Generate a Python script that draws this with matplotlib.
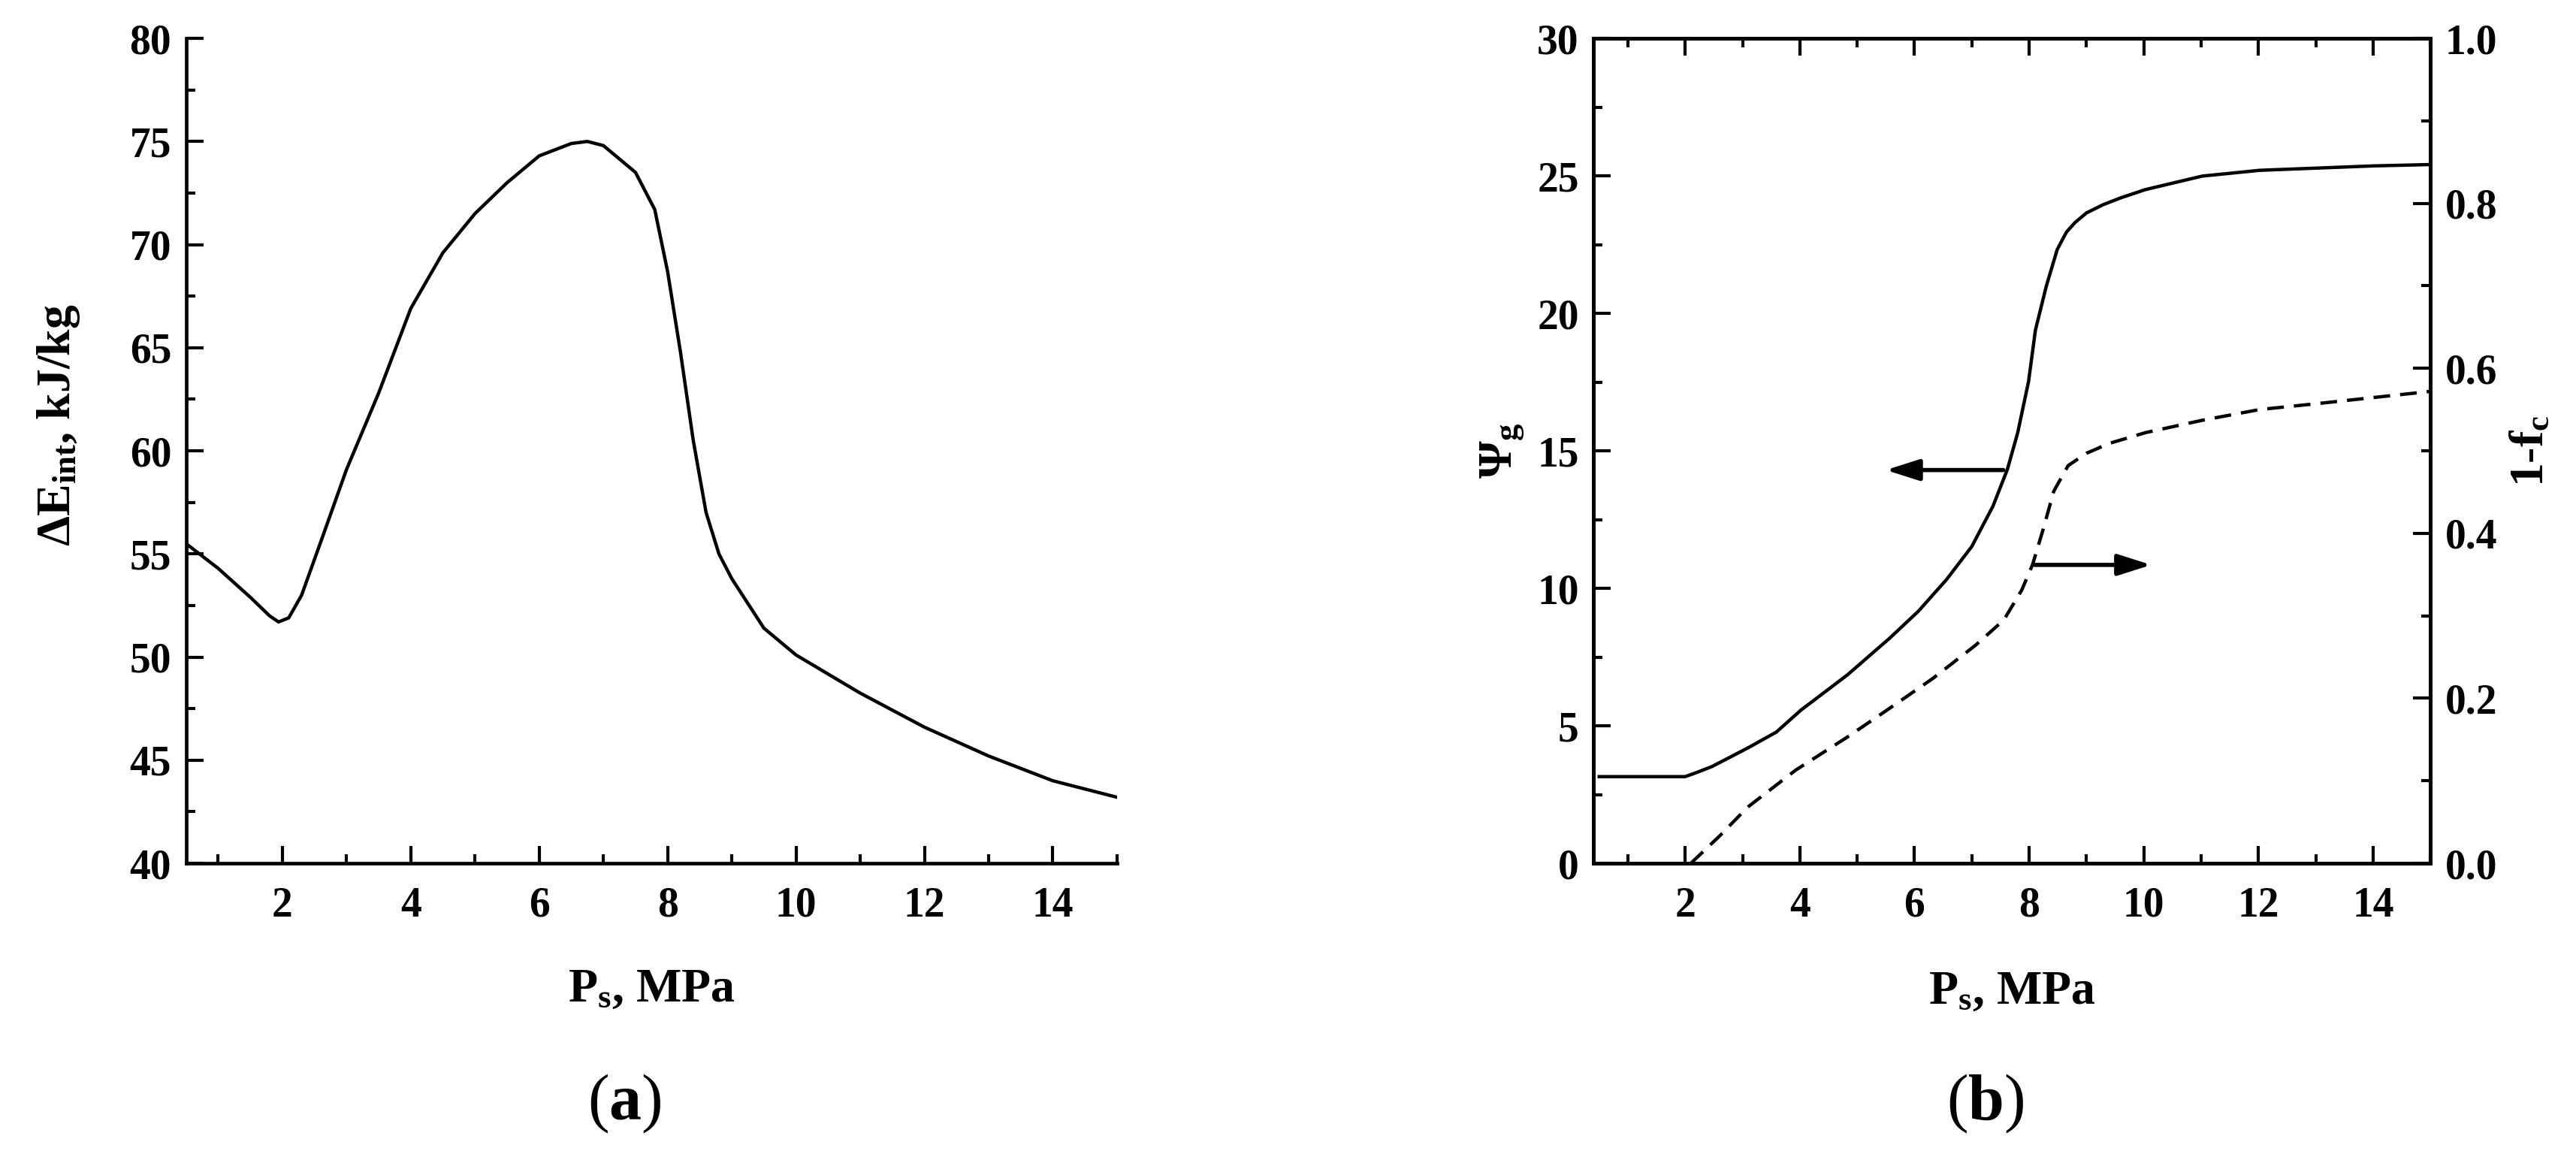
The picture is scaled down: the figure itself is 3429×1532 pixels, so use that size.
import numpy as np
import matplotlib
matplotlib.use('Agg')
import matplotlib.pyplot as plt
from matplotlib.ticker import MultipleLocator, FormatStrFormatter

plt.rcParams['font.family'] = ['Liberation Serif', 'DejaVu Serif']
plt.rcParams['font.weight'] = 'bold'
plt.rcParams['axes.labelweight'] = 'bold'
plt.rcParams['mathtext.fontset'] = 'custom'
plt.rcParams['mathtext.rm'] = 'Liberation Serif:bold'
plt.rcParams['mathtext.bf'] = 'Liberation Serif:bold'
plt.rcParams['mathtext.it'] = 'Liberation Serif:italic:bold'

#----------------------- data -----------------------#
# (a) internal energy change vs separator pressure
p_a = [0.5, 1.0, 1.5, 1.8, 1.94, 2.1, 2.3, 2.6, 3.0, 3.5, 4.0, 4.5, 5.0,
       5.5, 6.0, 6.5, 6.75, 7.0, 7.5, 7.8, 8.0, 8.2, 8.4, 8.6, 8.8, 9.0,
       9.5, 10.0, 11.0, 12.0, 13.0, 14.0, 15.0]
dE_int = [55.5, 54.3, 52.9, 52.0, 51.7, 51.9, 53.0, 55.6, 59.1, 62.8, 66.9,
          69.6, 71.5, 73.0, 74.3, 74.9, 75.0, 74.8, 73.5, 71.7, 68.7, 64.8,
          60.5, 57.0, 55.0, 53.8, 51.4, 50.1, 48.25, 46.6, 45.2, 44.0, 43.2]

# (b) Psi_g (left axis, solid)
p_b = [0.5, 2.0, 2.2, 2.47, 3.09, 3.59, 4.02, 4.83, 5.57, 6.07, 6.56, 7.0,
       7.37, 7.62, 7.8, 7.99, 8.11, 8.3, 8.49, 8.65, 8.8, 9.0, 9.29, 9.6,
       10.03, 11.02, 12.02, 14.0, 15.0]
psi_g = [3.15, 3.15, 3.3, 3.52, 4.19, 4.77, 5.57, 6.85, 8.19, 9.17, 10.32,
         11.52, 12.99, 14.32, 15.65, 17.52, 19.39, 20.99, 22.32, 22.95, 23.3,
         23.65, 23.95, 24.2, 24.5, 24.99, 25.2, 25.36, 25.41]

# (b) 1-f_c (right axis, dashed)
p_c = [2.1, 2.6, 3.09, 3.93, 4.83, 5.57, 6.32, 7.06, 7.56, 7.87, 8.06, 8.25,
       8.43, 8.68, 9.0, 9.4, 10.03, 11.02, 12.02, 13.0, 15.0]
one_minus_fc = [0.0, 0.033, 0.068, 0.113, 0.153, 0.188, 0.224, 0.264, 0.295,
                0.331, 0.362, 0.406, 0.451, 0.482, 0.497, 0.509, 0.522, 0.537,
                0.550, 0.557, 0.572]

#----------------------- figure -----------------------#
fig = plt.figure(figsize=(34.3, 15.32), dpi=100)
axa = fig.add_axes([0.0722, 0.25, 0.3613, 0.7167])
axb = fig.add_axes([0.6184, 0.25, 0.3248, 0.7167])

tick_fs = 40
label_fs = 46
lw = 3.2


def style_ticks(ax, **kw):
    ax.tick_params(which='major', direction='in', length=16.5, width=3.0,
                   labelsize=tick_fs, **kw)
    ax.tick_params(which='minor', direction='in', length=8.5, width=3.0, **kw)
    for s in ax.spines.values():
        s.set_linewidth(3.4)


# ---- panel (a) ----
axa.plot(p_a, dE_int, color='black', lw=lw)
axa.set_xlim(0.5, 15)
axa.set_ylim(40, 80)
axa.xaxis.set_major_locator(MultipleLocator(2))
axa.xaxis.set_minor_locator(MultipleLocator(1))
axa.yaxis.set_major_locator(MultipleLocator(5))
axa.yaxis.set_minor_locator(MultipleLocator(2.5))
axa.spines['top'].set_visible(False)
axa.spines['right'].set_visible(False)
style_ticks(axa)
axa.tick_params(axis='x', pad=22)
axa.tick_params(axis='y', pad=14)
axa.set_xticks([2, 4, 6, 8, 10, 12, 14])
axa.set_xlabel(r'$\mathbf{P_s}$, MPa', fontsize=label_fs, fontweight='bold',
               va='baseline')
axa.xaxis.set_label_coords(0.5, -0.167)
axa.set_ylabel(r'$\mathbf{\Delta E_{int}}$, kJ/kg', fontsize=label_fs,
               fontweight='bold', va='center')
axa.yaxis.set_label_coords(-0.137, 0.531)

# ---- panel (b) ----
axb.plot(p_b, psi_g, color='black', lw=lw)
axb.set_xlim(0.4, 15)
axb.set_ylim(0, 30)
axb.xaxis.set_major_locator(MultipleLocator(2))
axb.xaxis.set_minor_locator(MultipleLocator(1))
axb.yaxis.set_major_locator(MultipleLocator(5))
axb.yaxis.set_minor_locator(MultipleLocator(2.5))
style_ticks(axb)
axb.tick_params(axis='x', which='both', top=True, pad=22)
axb.tick_params(axis='y', which='both', right=False, pad=14)
axb.set_xticks([2, 4, 6, 8, 10, 12, 14])
axb.set_xlabel(r'$\mathbf{P_s}$, MPa', fontsize=label_fs, fontweight='bold',
               va='baseline')
axb.xaxis.set_label_coords(0.5, -0.170)
axb.set_ylabel(r'$\mathbf{\Psi_g}$', fontsize=label_fs, va='center')
axb.yaxis.set_label_coords(-0.109, 0.5)

ax2 = axb.twinx()
ax2.plot(p_c, one_minus_fc, color='black', lw=lw, linestyle=(0, (5, 3)))
ax2.set_ylim(0, 1.0)
ax2.yaxis.set_major_locator(MultipleLocator(0.2))
ax2.yaxis.set_minor_locator(MultipleLocator(0.1))
ax2.yaxis.set_major_formatter(FormatStrFormatter('%.1f'))
style_ticks(ax2)
ax2.tick_params(axis='y', pad=14)
ax2.set_ylabel(r'1-$\mathbf{f_c}$', fontsize=label_fs, fontweight='bold',
               va='center')
ax2.yaxis.set_label_coords(1.121, 0.5)

# arrows pointing to the axis each curve belongs to
arrow_kw = dict(arrowstyle='-|>,head_length=1.35,head_width=0.43',
                mutation_scale=20, color='black', lw=4, shrinkA=0, shrinkB=0)
axb.annotate('', xy=(5.5, 14.3), xytext=(7.55, 14.3), arrowprops=arrow_kw)
axb.annotate('', xy=(10.13, 10.85), xytext=(8.1, 10.85), arrowprops=arrow_kw)

# panel captions
fig.text(0.2423, 0.0274, r'($\mathbf{a}$)', fontsize=62, fontweight='normal',
         ha='center', va='baseline')
fig.text(0.7706, 0.0274, r'($\mathbf{b}$)', fontsize=62, fontweight='normal',
         ha='center', va='baseline')

fig.savefig('out.png', dpi=100)
